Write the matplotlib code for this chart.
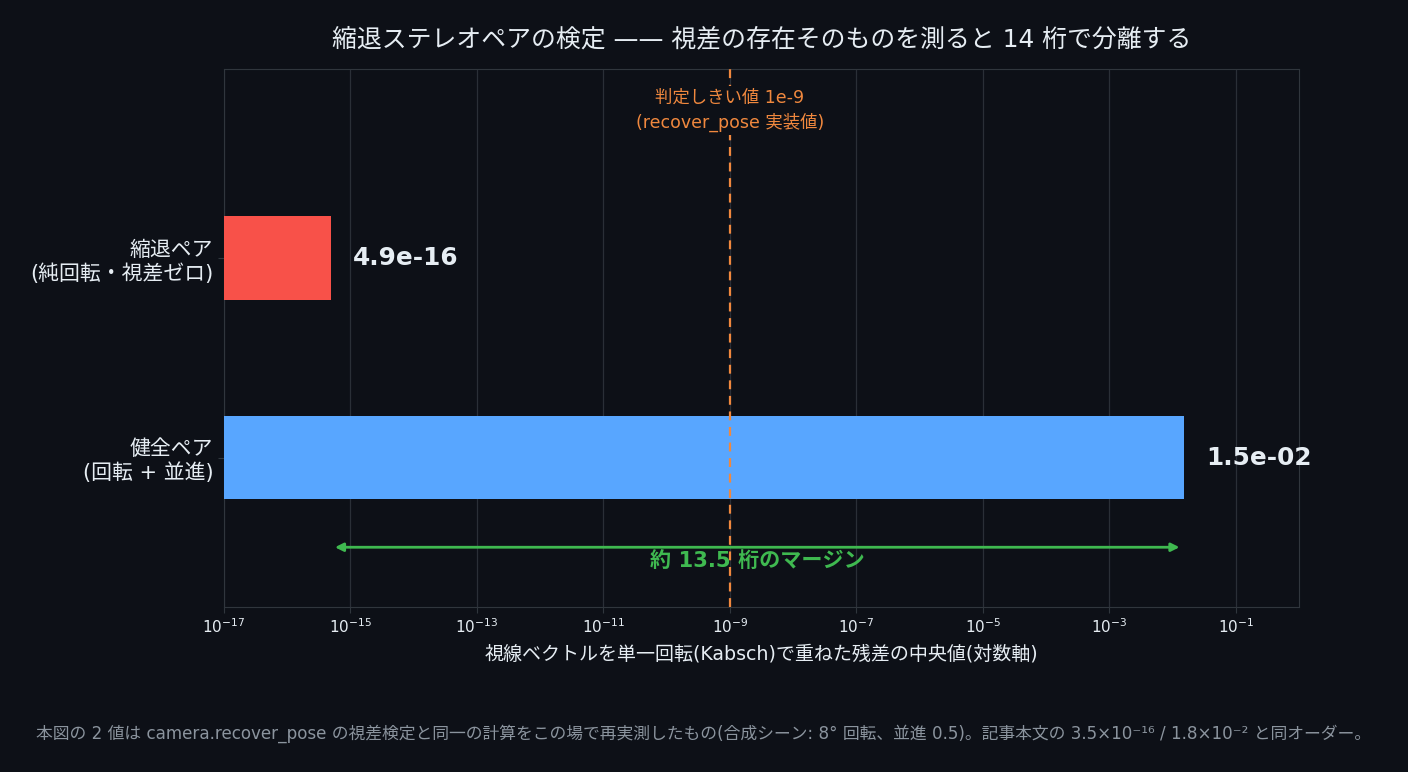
import matplotlib
matplotlib.use("Agg")
import matplotlib.pyplot as plt
import numpy as np

plt.rcParams['font.family'] = ['DejaVu Sans', 'Noto Sans CJK JP']
plt.rcParams['axes.unicode_minus'] = False

# data
labels = ['健全ペア\n(回転 + 並進)', '縮退ペア\n(純回転・視差ゼロ)']
values = [1.5e-2, 4.9e-16]
value_text = ['1.5e-02', '4.9e-16']
bar_colors = ['#58a6ff', '#f85149']
threshold = 1e-9
xticks = [1e-17, 1e-15, 1e-13, 1e-11, 1e-9, 1e-7, 1e-5, 1e-3, 1e-1]

bg = '#0d1017'
fg = '#e6edf3'
grid_c = '#2a2f37'

fig = plt.figure(figsize=(14.08, 7.72), dpi=100, facecolor=bg)
ax = fig.add_axes([0.159, 0.2137, 0.7636, 0.6969], facecolor=bg)

y = np.arange(len(labels))
ax.barh(y, values, height=0.42, color=bar_colors, left=1e-17, zorder=3)
ax.set_xscale('log')
ax.set_xlim(1e-17, 1.0)
ax.set_ylim(-0.75, 1.95)
ax.set_xticks(xticks)
ax.xaxis.set_minor_locator(matplotlib.ticker.NullLocator())
ax.set_yticks(y)
ax.set_yticklabels(labels)

ax.grid(axis='x', color=grid_c, linewidth=0.9, zorder=0)
for s in ax.spines.values():
    s.set_color('#30363d')
ax.tick_params(axis='x', colors='#30363d', labelcolor=fg, labelsize=11, length=4)
ax.tick_params(axis='y', colors='#30363d', labelcolor=fg, labelsize=15, length=4)

for yi, v, t in zip(y, values, value_text):
    ax.text(v * 10**0.35, yi, t, color=fg, fontsize=17.8, fontweight='bold',
            va='center', ha='left', zorder=4)

# threshold
ax.axvline(threshold, color='#f0883e', linestyle=(0, (4, 3)), linewidth=1.6, zorder=4)
ax.text(threshold, 0.964, '判定しきい値 1e-9\n(recover_pose 実装値)', transform=ax.get_xaxis_transform(),
        color='#f0883e', fontsize=12.5, ha='center', va='top', linespacing=1.45,
        bbox=dict(facecolor=bg, edgecolor='none', pad=2), zorder=5)

# margin arrow
ax.annotate('', xy=(values[0], -0.45), xytext=(values[1], -0.45),
            arrowprops=dict(arrowstyle='<|-|>', color='#3fb950', lw=2,
                            mutation_scale=12, shrinkA=3, shrinkB=3), zorder=5)
margin = np.log10(values[0]) - np.log10(values[1])
ax.text(np.sqrt(values[0] * values[1]), -0.52, f'約 {margin:.1f} 桁のマージン',
        color='#3fb950', fontsize=15.2, fontweight='bold', ha='center', va='center', zorder=5)

ax.set_xlabel('視線ベクトルを単一回転(Kabsch)で重ねた残差の中央値(対数軸)', color=fg, fontsize=13.7, labelpad=6)
ax.set_title('縮退ステレオペアの検定 —— 視差の存在そのものを測ると 14 桁で分離する',
             color=fg, fontsize=17.9, pad=16)

fig.text(0.5, 0.05, '本図の 2 値は camera.recover_pose の視差検定と同一の計算をこの場で再実測したもの'
         '(合成シーン: 8° 回転、並進 0.5)。記事本文の 3.5×10⁻¹⁶ / 1.8×10⁻² と同オーダー。',
         color='#8b949e', fontsize=12.1, ha='center', va='center')

fig.savefig('out.png', dpi=100, facecolor=bg)
